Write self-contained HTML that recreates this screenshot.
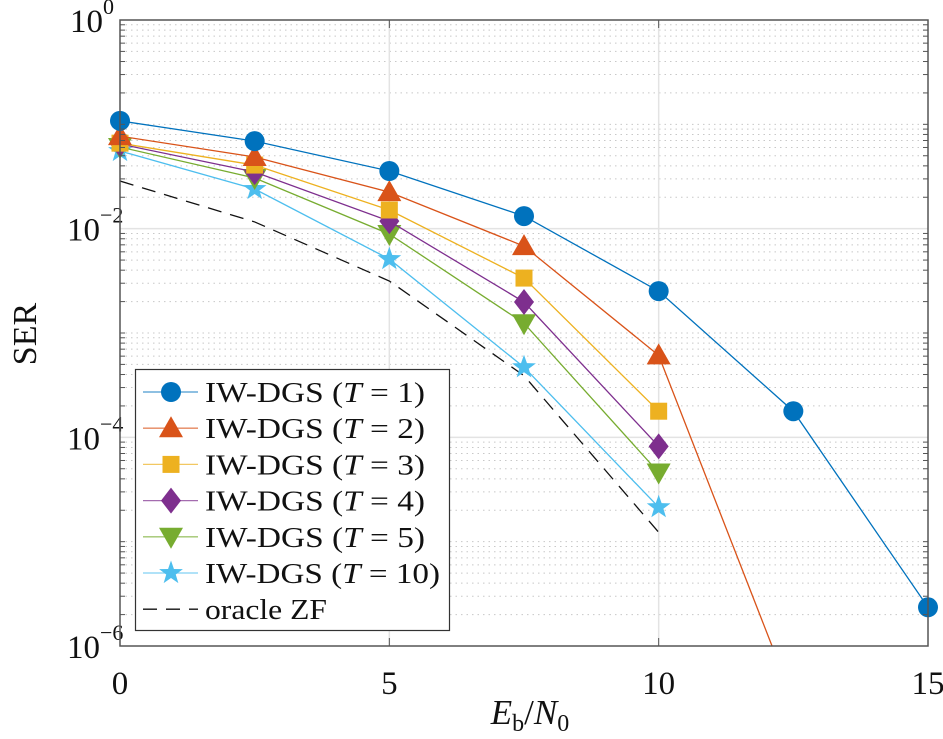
<!DOCTYPE html>
<html><head><meta charset="utf-8"><style>
html,body{margin:0;padding:0;background:#fff;}
svg{display:block;font-family:"Liberation Serif","DejaVu Serif",serif;}
</style></head><body>
<svg id="chart" width="943" height="739" viewBox="0 0 943 739" xmlns="http://www.w3.org/2000/svg">
<rect width="943" height="739" fill="#fff"/>
<g id="grid"></g>
<g id="series"></g>
<g id="axes"></g>
<g id="legend"></g>
</svg>
<script>
const xVals = [0, 2.5, 5, 7.5, 10, 12.5, 15];
const serT1 = [0.108, 0.069, 0.0357, 0.0132, 0.00252, 1.78e-4, 2.35e-6];
const serT2 = [0.077, 0.0486, 0.0224, 0.0068, 6.1e-4, 3e-7];
const serT3 = [0.066, 0.0407, 0.0151, 0.00336, 1.78e-4];
const serT4 = [0.0647, 0.0349, 0.0118, 0.00198, 8.2e-5];
const serT5 = [0.0606, 0.0306, 0.00888, 0.00124, 4.6e-5];
const serT10 = [0.0555, 0.024, 0.00511, 4.7e-4, 2.14e-5];
const serZF = [0.0286, 0.0116, 0.00315, 3.9e-4, 1.23e-5];
const xTicks = [0, 5, 10, 15];
const yTickExps = [0, -2, -4, -6];
const legendLabels = ["IW-DGS (T = 1)","IW-DGS (T = 2)","IW-DGS (T = 3)","IW-DGS (T = 4)","IW-DGS (T = 5)","IW-DGS (T = 10)","oracle ZF"];

const NS = "http://www.w3.org/2000/svg";
const L = 120, R = 928, T = 20, B = 646;
const xS = v => L + (v - 0) / 15 * (R - L);
const yS = v => T + (-Math.log10(v)) / 6 * (B - T);
function mk(tag, attrs, parent) {
  const e = document.createElementNS(NS, tag);
  for (const k in attrs) e.setAttribute(k, attrs[k]);
  parent.appendChild(e);
  return e;
}
const grid = document.getElementById('grid');
const axes = document.getElementById('axes');
const seriesG = document.getElementById('series');
const legend = document.getElementById('legend');

// minor grid (includes odd decades)
for (let d = 0; d > -6; d--) {
  for (let m = 1; m <= 9; m++) {
    const v = m * Math.pow(10, d - 1);
    const ex = d - 1;
    if (m === 1 && ex % 2 === 0) continue;
    const y = yS(v);
    const ln = mk('line', {x1: L, x2: R, y1: y, y2: y, stroke: '#c8c8c8', 'stroke-width': 1, 'stroke-dasharray': '1.5 4'}, grid);
    
    
    const t1 = mk('line', {x1: L, x2: L + 5, y1: y, y2: y, stroke: '#555', 'stroke-width': 1}, axes);
    
    
    const t2 = mk('line', {x1: R - 5, x2: R, y1: y, y2: y, stroke: '#555', 'stroke-width': 1}, axes);
    
    
  }
}
// major grid
yTickExps.forEach(e => {
  if (e === 0 || e === -6) return;
  const y = yS(Math.pow(10, e));
  const ln = mk('line', {x1: L, x2: R, y1: y, y2: y, stroke: '#e3e3e3', 'stroke-width': 1.5}, grid);
  
  
});
xTicks.forEach(v => {
  const x = xS(v);
  if (v > 0 && v < 15) {
    const g = mk('line', {x1: x, x2: x, y1: T, y2: B, stroke: '#e3e3e3', 'stroke-width': 1.5}, grid);
    
    
  }
  const tk = mk('line', {x1: x, x2: x, y1: B, y2: B - 8, stroke: '#555', 'stroke-width': 1}, axes);
  
  
  const tk2 = mk('line', {x1: x, x2: x, y1: T, y2: T + 8, stroke: '#555', 'stroke-width': 1}, axes);
  
  
  const tx = mk('text', {x: x, y: 694, 'font-size': 33, 'text-anchor': 'middle', fill: '#111'}, axes);
  tx.textContent = String(v);
  
  
});
yTickExps.forEach(e => {
  const y = yS(Math.pow(10, e));
  const tx = mk('text', {x: e === 0 ? 103 : 100, y: y + 12, 'font-size': 33, 'text-anchor': 'end', fill: '#111'}, axes);
  tx.textContent = '10';
  
  
  const sup = mk('text', {x: e === 0 ? 103 : 100, y: y - 6, 'font-size': 22, 'text-anchor': 'start', fill: '#111'}, axes);
  sup.textContent = e === 0 ? '0' : '\u2212' + (-e);
  
  
});
const box = mk('rect', {x: L, y: T, width: R - L, height: B - T, fill: 'none', stroke: '#555', 'stroke-width': 1.5}, axes);



const xl = mk('text', {x: 530, y: 724, 'font-size': 35, 'text-anchor': 'middle', fill: '#111'}, axes);
xl.innerHTML = '<tspan font-style="italic">E</tspan><tspan font-size="24" dy="7">b</tspan><tspan dy="-7">/</tspan><tspan font-style="italic">N</tspan><tspan font-size="24" dy="7">0</tspan>';


const yl = mk('text', {x: 36, y: 334, 'font-size': 34, 'text-anchor': 'middle', fill: '#111', transform: 'rotate(-90 36 334)'}, axes);
yl.textContent = 'SER';



function marker(type, x, y, color, parent) {
  let e;
  if (type === 'circle') e = mk('circle', {cx: x, cy: y, r: 10, fill: color}, parent);
  else if (type === 'tri') e = mk('polygon', {points: `${x},${y-12} ${x+12},${y+9} ${x-12},${y+9}`, fill: color}, parent);
  else if (type === 'square') e = mk('rect', {x: x - 8.5, y: y - 8.5, width: 17, height: 17, fill: color}, parent);
  else if (type === 'diamond') e = mk('polygon', {points: `${x},${y-13} ${x+10},${y} ${x},${y+13} ${x-10},${y}`, fill: color}, parent);
  else if (type === 'vtri') e = mk('polygon', {points: `${x-12},${y-9} ${x+12},${y-9} ${x},${y+12}`, fill: color}, parent);
  else if (type === 'star') {
    let p = [];
    for (let i = 0; i < 10; i++) {
      const r = i % 2 ? 5 : 12.5, a = -Math.PI / 2 + i * Math.PI / 5;
      p.push((x + r * Math.cos(a)).toFixed(2) + ',' + (y + r * Math.sin(a)).toFixed(2));
    }
    e = mk('polygon', {points: p.join(' '), fill: color}, parent);
  }
  return e;
}

const clip = mk('clipPath', {id: 'plotclip'}, document.getElementById('chart'));
mk('rect', {x: L, y: T, width: R - L, height: B - T}, clip);

const defs = [
  {vals: serT1, color: '#0072BD', m: 'circle', name: 't1'},
  {vals: serT2, color: '#D95319', m: 'tri', name: 't2'},
  {vals: serT3, color: '#EDB120', m: 'square', name: 't3'},
  {vals: serT4, color: '#7E2F8E', m: 'diamond', name: 't4'},
  {vals: serT5, color: '#77AC30', m: 'vtri', name: 't5'},
  {vals: serT10, color: '#4DBEEE', m: 'star', name: 't10'},
  {vals: serZF, color: '#111', m: null, name: 'oracle-zf'}
];
[...defs].reverse().forEach(d => {
  const g = mk('g', {}, seriesG);
  
  
  const pts = d.vals.map((v, i) => xS(xVals[i]).toFixed(2) + ',' + yS(v).toFixed(2)).join(' ');
  const pl = mk('polyline', {points: pts, fill: 'none', stroke: d.color, 'stroke-width': 1.3, 'clip-path': 'url(#plotclip)'}, g);
  if (!d.m) pl.setAttribute('stroke-dasharray', '14 9');
  
  
  if (d.m) d.vals.forEach((v, i) => {
    if (v < 1e-6) return;
    const e = marker(d.m, xS(xVals[i]), yS(v), d.color, g);
    
    
  });
});

// legend
const lb = mk('rect', {x: 135.5, y: 369.5, width: 314, height: 261, fill: '#fff', stroke: '#333', 'stroke-width': 1.2}, legend);


const legendWidths = [220, 220, 220, 220, 220, 235, 122];
defs.forEach((d, i) => {
  const y = 392 + i * 36.2;
  const g = mk('g', {}, legend);
  
  
  const ln = mk('line', {x1: 143, x2: 198, y1: y, y2: y, stroke: d.color, 'stroke-width': 1.3, opacity: d.m ? 0.7 : 1}, g);
  if (!d.m) ln.setAttribute('stroke-dasharray', '14 9');
  
  
  if (d.m) {
    const mm = marker(d.m, 171, y, d.color, g);
    
    
  }
  const t = mk('text', {x: 205, y: y + 10, 'font-size': 29, fill: '#111', textLength: legendWidths[i], lengthAdjust: 'spacingAndGlyphs'}, g);
  const lab = legendLabels[i];
  if (lab.indexOf('(T') >= 0) {
    const num = lab.match(/= (\d+)/)[1];
    t.innerHTML = 'IW-DGS (<tspan font-style="italic">T</tspan> = ' + num + ')';
  } else t.textContent = lab;
  
  
});
</script>
</body></html>
